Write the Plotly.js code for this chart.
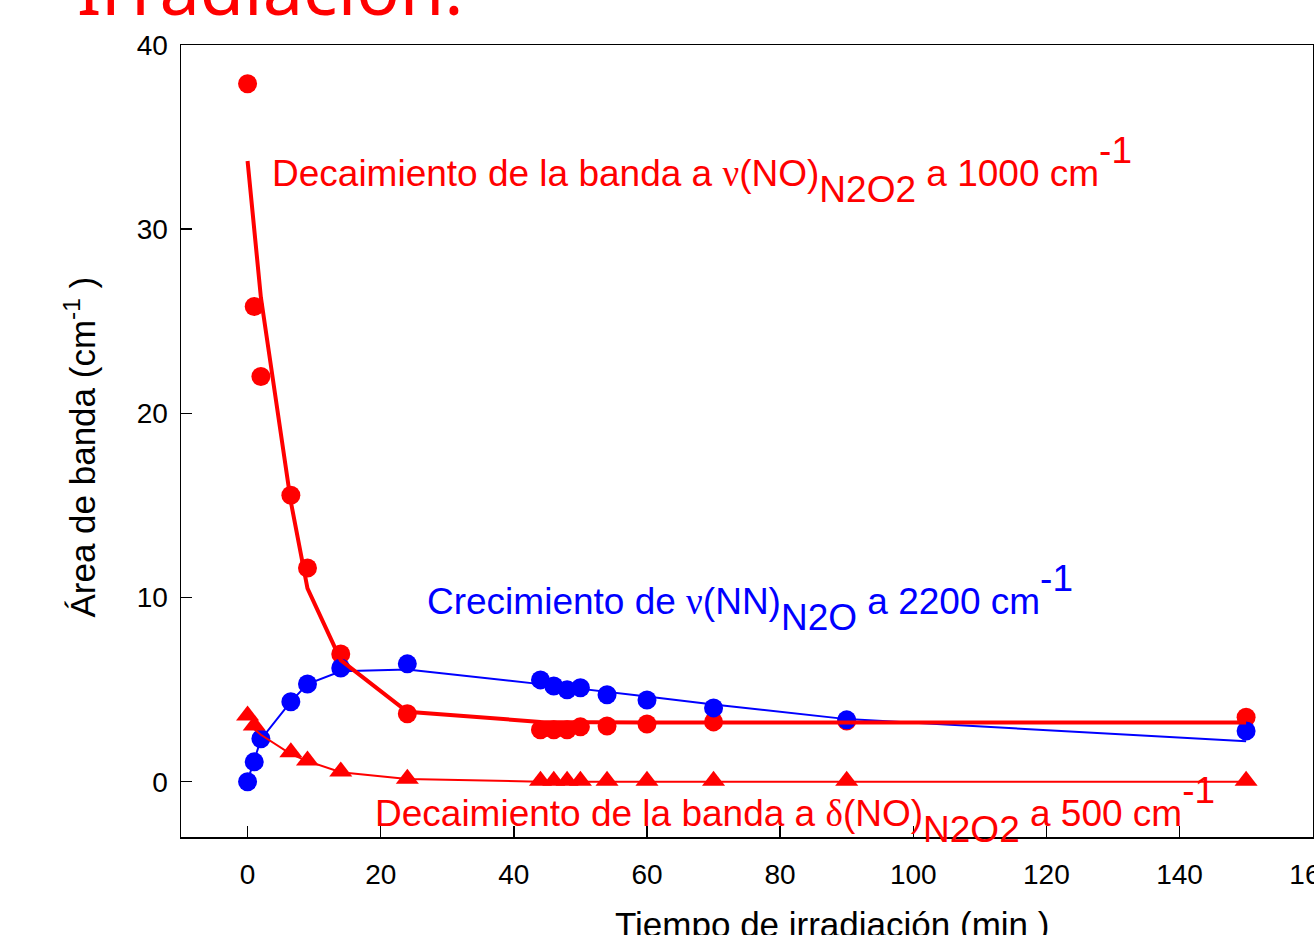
<!DOCTYPE html>
<html>
<head>
<meta charset="utf-8">
<script src="https://cdn.plot.ly/plotly-3.0.1.min.js"></script>
<style>html,body{margin:0;padding:0;background:#fff;}#chart{width:1314px;height:935px;}</style>
</head>
<body>
<div id="chart"></div>
<script>
// Time of irradiation (min)
const timeNO = [0, 1, 2, 6.5, 9, 14, 24, 44, 46, 48, 50, 54, 60, 70, 90, 150];
// ν(NO) N2O2 band area at 1000 cm-1 (red circles)
const areaNO = [37.9, 25.8, 22.0, 15.55, 11.6, 6.94, 3.69, 2.82, 2.82, 2.82, 2.98, 3.03, 3.14, 3.25, 3.3, 3.5];
// fitted decay curve for ν(NO)
const fitNO = [33.7, 30.0, 26.3, 15.2, 10.5, 6.6, 3.8, 3.25, 3.24, 3.23, 3.22, 3.22, 3.22, 3.22, 3.22, 3.22];

const timeNN = [0, 1, 2, 6.5, 9, 14, 24, 44, 46, 48, 50, 54, 60, 70, 90, 150];
// ν(NN) N2O band area at 2200 cm-1 (blue circles)
const areaNN = [0.0, 1.08, 2.33, 4.34, 5.31, 6.18, 6.4, 5.53, 5.2, 4.99, 5.1, 4.72, 4.44, 4.01, 3.36, 2.76];
const fitNN = [0.05, 1.15, 2.3, 4.35, 5.3, 6.0, 6.1, 5.3, 5.22, 5.13, 5.05, 4.88, 4.63, 4.2, 3.4, 2.2];

const timeDelta = [0, 1, 6.5, 9, 14, 24, 44, 46, 48, 50, 54, 60, 70, 90, 150];
// δ(NO) N2O2 band area at 500 cm-1 (red triangles)
const areaDelta = [3.6, 3.05, 1.6, 1.15, 0.56, 0.16, 0.05, 0.05, 0.05, 0.05, 0.05, 0.05, 0.05, 0.05, 0.05];
const timeDeltaFit = [1, 2, 6.5, 9, 14, 24, 44, 46, 48, 50, 54, 60, 70, 90, 150];
const fitDelta = [2.85, 2.55, 1.5, 1.12, 0.52, 0.15, 0.0, 0.0, 0.0, 0.0, 0.0, 0.0, 0.0, 0.0, 0.0];

const xTicks = [0, 20, 40, 60, 80, 100, 120, 140, 160];
const yTicks = [0, 10, 20, 30, 40];

const RED = '#ff0000', BLUE = '#0000ff';
const FONT = 'Liberation Sans, Arial, sans-serif';

const traces = [
  {x: timeNO, y: areaNO, mode: 'markers', type: 'scatter',
   marker: {color: RED, size: 19, symbol: 'circle'}},
  {x: timeNN, y: areaNN, mode: 'markers', type: 'scatter',
   marker: {color: BLUE, size: 19, symbol: 'circle'}},
  {x: timeDelta, y: areaDelta, mode: 'markers', type: 'scatter',
   marker: {color: RED, size: 20, symbol: 'triangle-up'}},
  {x: timeNN, y: fitNN, mode: 'lines', type: 'scatter',
   line: {color: BLUE, width: 2}},
  {x: timeDeltaFit, y: fitDelta, mode: 'lines', type: 'scatter',
   line: {color: RED, width: 2}},
  {x: timeNO, y: fitNO, mode: 'lines', type: 'scatter',
   line: {color: RED, width: 4}}
];

const serif = "font-family:'Liberation Serif', serif";
const sub = s => '<span style="baseline-shift:-16px">' + s + '</span>';
const sup = s => '<span style="baseline-shift:23px">' + s + '</span>';
const greek = g => '<span style="' + serif + '">' + g + '</span>';

const layout = {
  width: 1314, height: 935,
  margin: {l: 181, r: 1, t: 45, b: 98},
  paper_bgcolor: '#fff', plot_bgcolor: '#fff',
  showlegend: false,
  font: {family: FONT, color: '#000', size: 28},
  xaxis: {
    range: [-10, 160.05], tickvals: xTicks, ticktext: xTicks.map(String),
    ticks: 'inside', ticklen: 11, tickwidth: 1.5, tickcolor: '#000',
    showline: true, mirror: true, linecolor: '#000', linewidth: 1.5,
    showgrid: false, zeroline: false, ticklabelstandoff: 12,
    ticklabeloverflow: 'allow',
    tickfont: {size: 28, family: FONT, color: '#000'}
  },
  yaxis: {
    range: [-3, 40], tickvals: yTicks, ticktext: yTicks.map(String),
    ticks: 'inside', ticklen: 11, tickwidth: 1.5, tickcolor: '#000',
    showline: true, mirror: true, linecolor: '#000', linewidth: 1.5,
    showgrid: false, zeroline: false, ticklabelstandoff: 6,
    tickfont: {size: 28, family: FONT, color: '#000'}
  },
  annotations: [
    {xref: 'paper', yref: 'paper', x: -0.094, y: 1.009, xanchor: 'left', yanchor: 'bottom',
     text: 'Irradiación:', showarrow: false,
     font: {family: 'Noto Sans, sans-serif', size: 72, color: RED}},
    {xref: 'x', yref: 'y', x: 3.3, y: 30.95, xanchor: 'left', yanchor: 'bottom', showarrow: false,
     text: 'Decaimiento de la banda a ' + greek('ν') + '(NO)' + sub('N2O2') + ' a 1000 cm' + sup('-1'),
     font: {family: FONT, size: 37, color: RED}},
    {xref: 'x', yref: 'y', x: 26.6, y: 7.7, xanchor: 'left', yanchor: 'bottom', showarrow: false,
     text: 'Crecimiento de ' + greek('ν') + '(NN)' + sub('N2O') + ' a 2200 cm' + sup('-1'),
     font: {family: FONT, size: 37, color: BLUE}},
    {xref: 'x', yref: 'paper', x: 18.9, y: -0.0186, xanchor: 'left', yanchor: 'bottom', showarrow: false,
     text: 'Decaimiento de la banda a ' + greek('δ') + '(NO)' + sub('N2O2') + ' a 500 cm' + sup('-1'),
     font: {family: FONT, size: 37, color: RED}},
    {xref: 'paper', yref: 'paper', x: -0.089, y: 0.492, xanchor: 'center', yanchor: 'middle',
     textangle: -90, showarrow: false,
     text: 'Área de banda (cm<sup>-1</sup> )',
     font: {family: FONT, size: 35, color: '#000'}},
    {xref: 'paper', yref: 'paper', x: 0.575, y: -0.111, xanchor: 'center', yanchor: 'middle',
     showarrow: false,
     text: 'Tiempo de irradiación (min )',
     font: {family: FONT, size: 35, color: '#000'}}
  ]
};

Plotly.newPlot('chart', traces, layout, {displayModeBar: false, staticPlot: true});
</script>
</body>
</html>
